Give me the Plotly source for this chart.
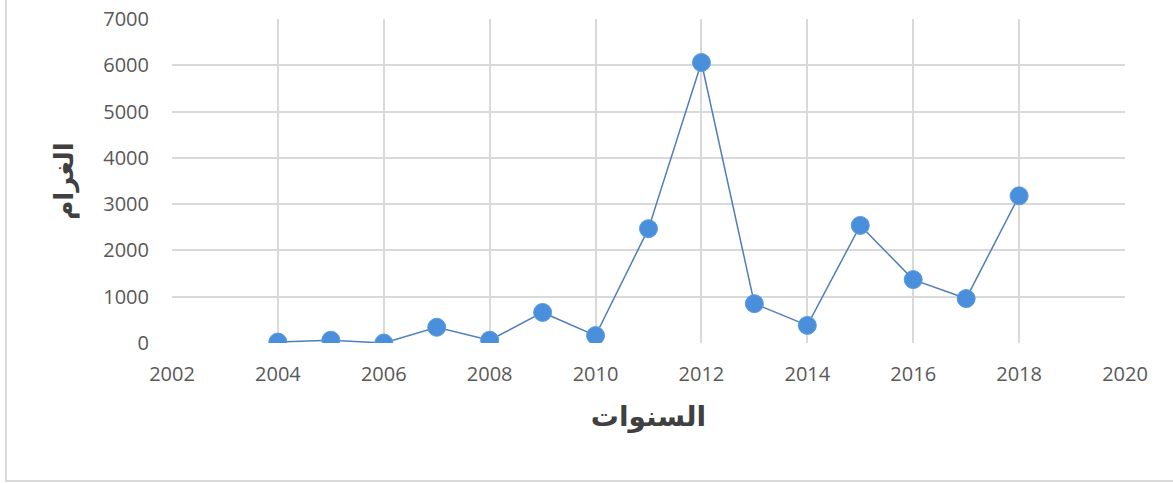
import plotly.graph_objects as go

years = [2004, 2005, 2006, 2007, 2008, 2009, 2010, 2011, 2012, 2013, 2014, 2015, 2016, 2017, 2018]
grams = [20, 60, 0, 340, 60, 660, 160, 2470, 6060, 850, 380, 2540, 1370, 960, 3180]

x_title = "السنوات"
y_title = "الغرام"

W, H = 1173, 483
ml, mr, mt, mb = 172, 48, 19, 140
pw = W - ml - mr
ph = H - mt - mb

fig = go.Figure()
fig.add_trace(go.Scatter(
    x=years, y=grams, mode="lines+markers",
    line=dict(color="#4F7FBA", width=1.5),
    marker=dict(size=18, color="#4A8FDB", line=dict(color="#5B9BE0", width=1)),
    showlegend=False,
))

tickfont = dict(family="Open Sans, Liberation Sans, sans-serif", size=20, color="#595959")
fig.update_layout(
    width=W, height=H,
    margin=dict(l=ml, r=mr, t=mt, b=mb, autoexpand=False),
    paper_bgcolor="white", plot_bgcolor="white",
    xaxis=dict(range=[2002, 2020], dtick=2, tick0=2002, showgrid=True, gridcolor="#D9D9D9",
               gridwidth=1.5, zeroline=False, showline=False, tickfont=tickfont, ticks="",
               ticklabelstandoff=17, automargin=False,
               title=dict(text="<b>" + x_title + "</b>", font=dict(family="DejaVu Sans, sans-serif", size=28, color="#404040"),
                          standoff=20)),
    yaxis=dict(range=[0, 7000], dtick=1000, showgrid=True, gridcolor="#D9D9D9", gridwidth=1.5,
               zeroline=False, showline=False, tickfont=tickfont, ticks="",
               ticklabelstandoff=22, automargin=False,
               title=dict(text="<b>" + y_title + "</b>", font=dict(family="DejaVu Sans, sans-serif", size=26, color="#404040"),
                          standoff=22)),
)
fig.add_shape(type="rect", xref="paper", yref="paper",
              x0=(6 - ml) / pw, x1=(1190 - ml) / pw,
              y0=1 - (481 - mt) / ph, y1=1 - (-10 - mt) / ph,
              line=dict(color="#D9D9D9", width=2), layer="below")
fig.write_html("out.html", config={"displayModeBar": False},
               post_script="document.body.style.margin='0';document.body.style.overflow='hidden';")
